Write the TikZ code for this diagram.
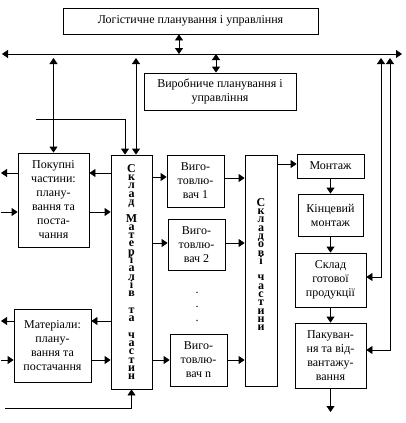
\documentclass[tikz,border=0pt]{standalone}
\usepackage{fontspec}
\setmainfont{Liberation Serif}
\usetikzlibrary{arrows.meta}

\begin{document}
\begin{tikzpicture}[x=1pt, y=-1pt,
    box/.style={draw, line width=0.8pt, align=center, inner sep=1pt, font=\fontsize{12}{14}\selectfont},
    vtext/.style={align=center, font=\fontsize{12}{8.3}\selectfont\bfseries, execute at begin node={\lineskiplimit=-20pt\relax}},
    arrow/.style={-{Triangle[width=8pt,length=6pt]}, line width=0.8pt},
    dblarrow/.style={{Triangle[width=8pt,length=6pt]}-{Triangle[width=8pt,length=6pt]}, line width=0.8pt},
]
\useasboundingbox (0,0) rectangle (405,423);

% planning boxes
\node[box, minimum width=255pt, minimum height=26pt] (log) at (190.5,21) {Логістичне планування і управління};
\node[box, minimum width=152pt, minimum height=37pt] (vyr) at (220,91.5) {Виробниче планування і\\управління};

% supply side
\node[box, minimum width=71pt, minimum height=94pt] (pokup) at (53.5,200) {Покупні\\частини:\\плану-\\вання та\\поста-\\чання};
\node[box, minimum width=77pt, minimum height=73pt] (mater) at (52.5,345.5) {Матеріали:\\плану-\\вання та\\постачання};
\node[box, vtext, minimum width=41pt, minimum height=234pt] (sklad) at (131.5,272) {С\\к\\л\\а\\д\\[8.3pt]М\\а\\т\\е\\р\\і\\а\\л\\і\\в\\[8.3pt]т\\а\\[8.3pt]ч\\а\\с\\т\\и\\н};

% manufacturers
\node[box, minimum width=57pt, minimum height=52pt] (vyg1) at (195.5,181) {Виго-\\товлю-\\вач 1};
\node[box, minimum width=57pt, minimum height=51pt] (vyg2) at (196.5,244.5) {Виго-\\товлю-\\вач 2};
\node[align=center, inner sep=0pt, font=\fontsize{12}{14}\selectfont] (dots) at (197,307) {.\\.\\.};
\node[box, minimum width=57pt, minimum height=52pt] (vygn) at (198.5,360) {Виго-\\товлю-\\вач n};
\node[box, minimum width=32pt, minimum height=231pt] (skladovi) at (261,270.5) {};
\node[vtext, inner sep=0pt] (skladovitxt) at (261,264.5) {С\\к\\л\\а\\д\\о\\в\\і\\[8.3pt]ч\\а\\с\\т\\и\\н\\и};

% assembly and dispatch
\node[box, minimum width=67pt, minimum height=24pt] (montazh) at (330.5,166) {Монтаж};
\node[box, minimum width=65pt, minimum height=42pt] (kinc) at (330.5,215) {Кінцевий\\монтаж};
\node[box, minimum width=71pt, minimum height=54pt] (gotov) at (330.5,280) {Склад\\готової\\продукції};
\node[box, minimum width=71pt, minimum height=65pt] (pakuv) at (330.5,355.5) {Пакуван-\\ня та від-\\вантажу-\\вання};

% information bus
\coordinate (busL) at (2,54);
\coordinate (busR) at (402,54);
\draw[dblarrow] (busL) -- (busR);
\draw[dblarrow] (log.south -| 179,0) -- (busL -| 179,0);
\draw[dblarrow] (busL -| 216,0) -- (vyr.north -| 216,0);
\draw[dblarrow] (pokup.north) -- (pokup.north |- 0,58);
\draw[dblarrow] (sklad.north -| 136,0) -- (136,58);
\draw[arrow] (36,119) -| (sklad.north -| 125,0);
\draw[dblarrow] (gotov.east |- 0,277) -| (381,58);
\draw[dblarrow] (pakuv.east |- 0,350) -| (390,58);

% material flows
\draw[arrow] (pokup.west |- 0,173) -- (1,173);
\draw[arrow] (1,212) -- (pokup.west |- 0,212);
\draw[arrow] (mater.west |- 0,321) -- (1,321);
\draw[arrow] (1,360) -- (mater.west |- 0,360);
\draw[arrow] (sklad.west |- 0,173) -- (pokup.east |- 0,173);
\draw[arrow] (pokup.east |- 0,212) -- (sklad.west |- 0,212);
\draw[arrow] (sklad.west |- 0,321) -- (mater.east |- 0,321);
\draw[arrow] (mater.east |- 0,360) -- (sklad.west |- 0,360);
\draw[arrow] (5,408) -| (sklad.south);

\draw[arrow] (sklad.east |- 0,177) -- (vyg1.west |- 0,177);
\draw[arrow] (sklad.east |- 0,243) -- (vyg2.west |- 0,243);
\draw[arrow] (sklad.east |- 0,360) -- (vygn.west |- 0,360);
\draw[arrow] (vyg1.east |- 0,178) -- (skladovi.west |- 0,178);
\draw[arrow] (vyg2.east |- 0,243) -- (skladovi.west |- 0,243);
\draw[arrow] (vygn.east |- 0,360) -- (skladovi.west |- 0,360);
\draw[arrow] (skladovi.east |- 0,164) -- (montazh.west |- 0,164);

\draw[arrow] (montazh.south) -- (kinc.north);
\draw[arrow] (kinc.south) -- (gotov.north);
\draw[arrow] (gotov.south) -- (pakuv.north);
\coordinate (out) at (330.5,412);
\draw[arrow] (pakuv.south) -- (out);
\end{tikzpicture}
\end{document}
